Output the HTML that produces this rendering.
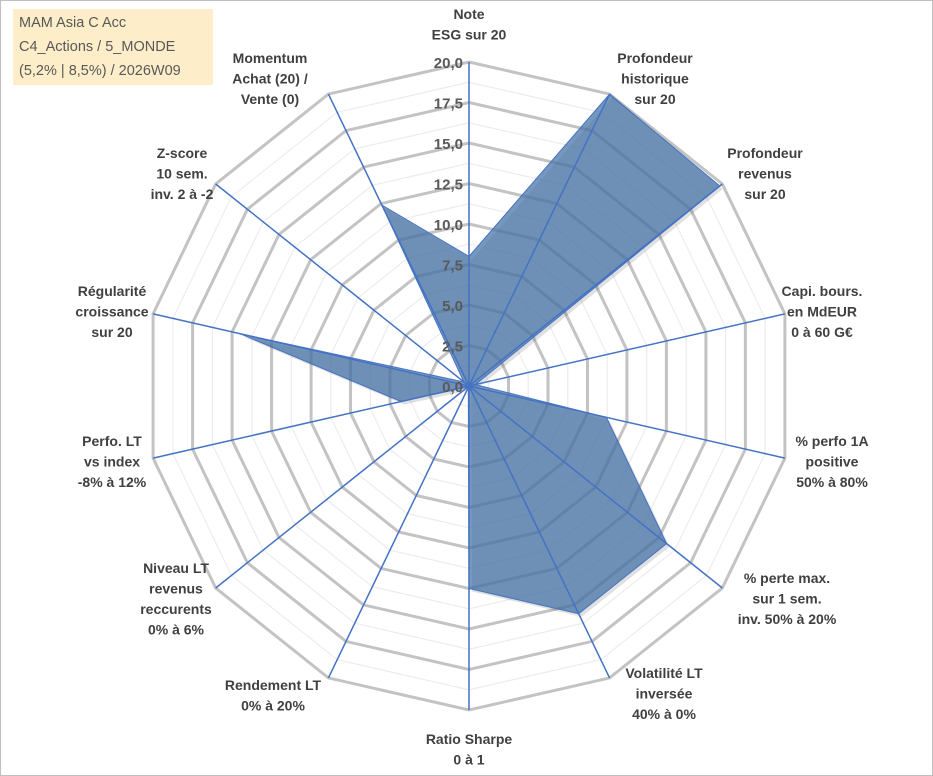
<!DOCTYPE html>
<html><head><meta charset="utf-8"><style>
html,body{margin:0;padding:0;background:#fff;}
#wrap{position:relative;width:933px;height:776px;overflow:hidden;font-family:"Liberation Sans",Arial,sans-serif;}
#frame{position:absolute;left:0;top:0;width:931px;height:774px;border:1px solid #bfbfbf;}
#title{position:absolute;left:13px;top:9px;width:200px;height:76px;background:#fdedc8;color:#595959;line-height:24px;padding:2px 0 0 6px;box-sizing:border-box;font-family:"Liberation Sans",sans-serif;font-size:14.5px;}
svg{position:absolute;left:0;top:0;font-family:"Liberation Sans",Arial,sans-serif;}
.lbl{font-weight:bold;font-size:14px;fill:#404040;text-anchor:middle;font-family:"Liberation Sans",Arial,sans-serif;}
.tick{font-weight:bold;font-size:15px;fill:#595959;text-anchor:end;font-family:"Liberation Sans",Arial,sans-serif;}
</style></head><body>
<div id="wrap">
<div id="frame"></div>
<svg id="chart" width="933" height="776"></svg>
<div id="title">MAM Asia C Acc<br>C4_Actions / 5_MONDE<br>(5,2% | 8,5%) / 2026W09</div>
</div>
<script>
const categories=[["Note","ESG sur 20"],["Profondeur","historique","sur 20"],["Profondeur","revenus","sur 20"],["Capi. bours.","en MdEUR","0 à 60 G€"],["% perfo 1A","positive","50% à 80%"],["% perte max.","sur 1 sem.","inv. 50% à 20%"],["Volatilité LT","inversée","40% à 0%"],["Ratio Sharpe","0 à 1"],["Rendement LT","0% à 20%"],["Niveau LT","revenus","reccurents","0% à 6%"],["Perfo. LT","vs index","-8% à 12%"],["Régularité","croissance","sur 20"],["Z-score","10 sem.","inv. 2 à -2"],["Momentum","Achat (20) /","Vente (0)"]];
const values=[8.0,20,19.8,0.4,8.7,15.6,15.6,12.5,0.1,0.1,4.3,14.5,0.4,12.4];
const tickLabels=["0,0","2,5","5,0","7,5","10,0","12,5","15,0","17,5","20,0"];
const maxV=20;
// label layout (centre x, first baseline y)
const labelLayout=[[469,19],[655,63],[765,158],[822,296],[832,446],[787,583],[664,678],[469,744],[273,690],[176,573],[112,446],[112,296],[182,158],[270,63]];
const cx=469,cy=386,R=324,N=categories.length;
const svg=document.getElementById('chart');
const NS="http://www.w3.org/2000/svg";
function ang(i){return i*2*Math.PI/N;}
function px(i,v){return cx+R*v/maxV*Math.sin(ang(i));}
function py(i,v){return cy-R*v/maxV*Math.cos(ang(i));}
function mk(t,a){const e=document.createElementNS(NS,t);for(const k in a)e.setAttribute(k,a[k]);svg.appendChild(e);return e;}
function ring(v){let p=[];for(let i=0;i<N;i++)p.push(px(i,v).toFixed(1)+","+py(i,v).toFixed(1));return p.join(" ");}
for(let k=0;k<8;k++){const v=1.25+k*2.5;
const g=mk('polygon',{points:ring(v),fill:'none',stroke:'#ececec','stroke-width':1.2});

}
for(let k=1;k<tickLabels.length;k++){const v=k*2.5;
const g=mk('polygon',{points:ring(v),fill:'none',stroke:'#c3c3c3','stroke-width':3});

}
let pts=[];for(let i=0;i<N;i++)pts.push(px(i,values[i]).toFixed(1)+","+py(i,values[i]).toFixed(1));
const sh=mk('polygon',{points:pts.join(" "),fill:'#000','fill-opacity':0.12,transform:'translate(3,3)'});


const ar=mk('polygon',{points:pts.join(" "),fill:'#4a76a8','fill-opacity':0.75,stroke:'#4472c4','stroke-width':1});


for(let i=0;i<N;i++){
const l=mk('line',{x1:cx,y1:cy,x2:px(i,maxV),y2:py(i,maxV),stroke:'#4472c4','stroke-width':1.5});

}
for(let k=0;k<tickLabels.length;k++){
const t=mk('text',{x:cx-6,y:cy-k*R/8+6,class:'tick'});t.textContent=tickLabels[k];

}
for(let i=0;i<N;i++){
const lines=categories[i];const lx=labelLayout[i][0],y0=labelLayout[i][1];
const t=mk('text',{x:lx,y:y0,class:'lbl'});


lines.forEach((s,j)=>{const ts=document.createElementNS(NS,'tspan');ts.setAttribute('x',lx);ts.setAttribute('y',y0+j*20.5);ts.textContent=s;t.appendChild(ts);});
}
</script>
</body></html>
